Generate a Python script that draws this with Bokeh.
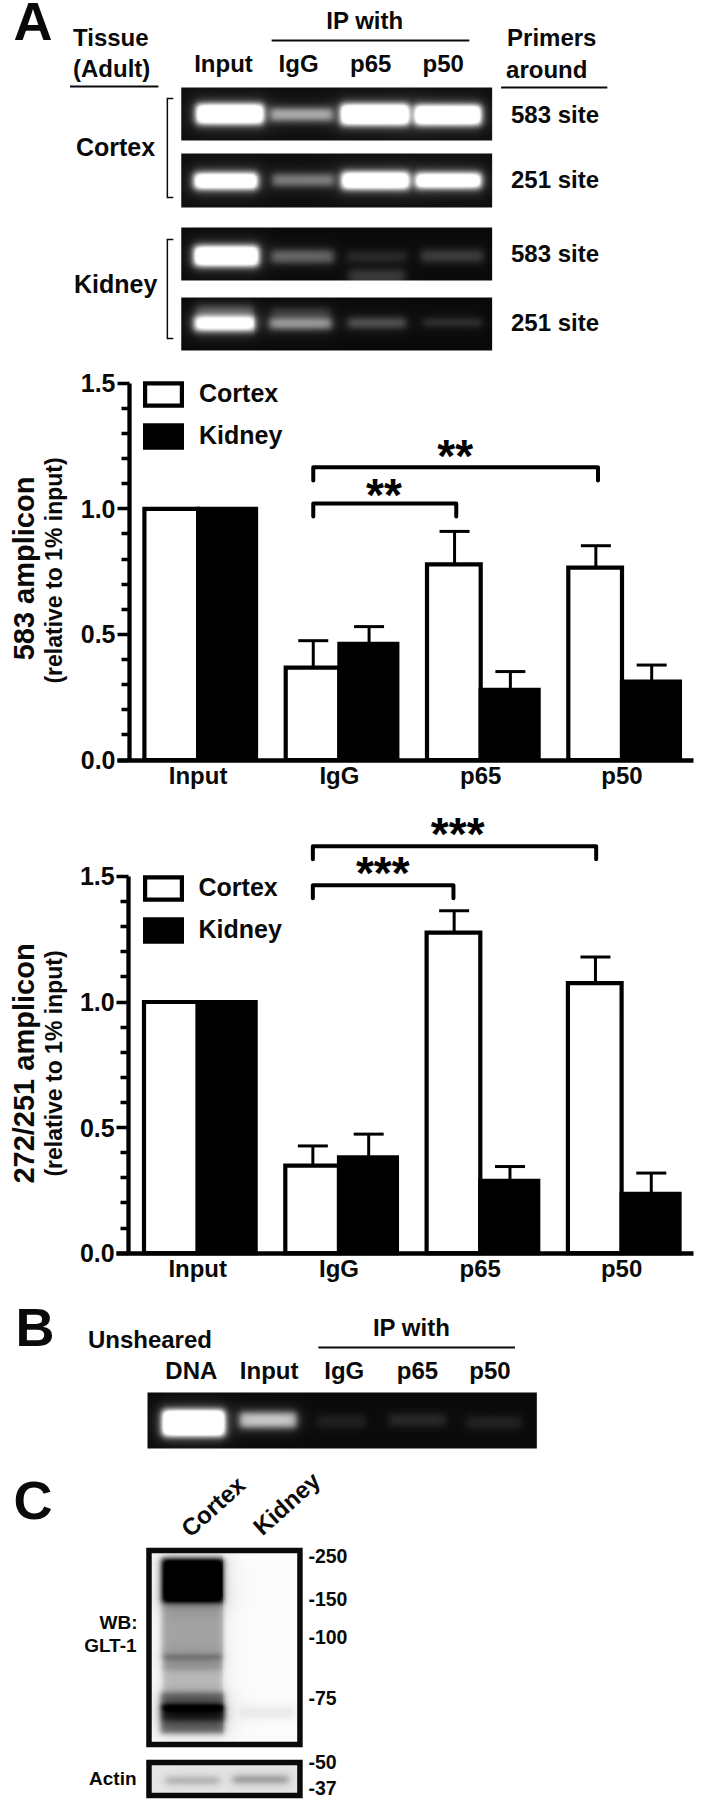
import numpy as np
from bokeh.plotting import figure
from bokeh.layouts import column
from bokeh.embed import file_html
from bokeh.resources import INLINE
from bokeh.core.properties import value
from bokeh.models import (Range1d, LinearAxis, FixedTicker, Whisker, TeeHead, ColumnDataSource,
                          Legend, LegendItem, NumeralTickFormatter)

FONT = "Liberation Sans"
W = 707
XS = 0.9932  # panel x coordinates below were read at this scale
MID = 0.3465  # height of the font box centre above the baseline, in em

groups = ["Input", "IgG", "p65", "p50"]
y_major = [0, 0.5, 1.0, 1.5]
y_minor = [0.1, 0.2, 0.3, 0.4, 0.6, 0.7, 0.8, 0.9, 1.1, 1.2, 1.3, 1.4]

c1_cortex = [1.0, 0.368, 0.779, 0.766]
c1_kidney = [1.0, 0.462, 0.279, 0.312]
c1_cortex_top = [None, 0.475, 0.91, 0.853]
c1_kidney_top = [None, 0.531, 0.352, 0.378]
c2_cortex = [1.0, 0.349, 1.276, 1.075]
c2_kidney = [1.0, 0.382, 0.288, 0.236]
c2_cortex_top = [None, 0.427, 1.363, 1.179]
c2_kidney_top = [None, 0.474, 0.345, 0.319]

# bands: x0, x1, y0, y1, strength
gel_a1 = [(197, 265, 104, 123, 1.4), (272, 334, 108, 120, 0.66), (342, 411, 104, 124, 1.4), (417, 483, 105, 124, 1.4)]
gel_a2 = [(195, 259, 173, 188, 1.4), (274, 335, 174, 185, 0.48), (343, 411, 172, 188, 1.4), (418, 483, 173, 187, 1.4)]
gel_a3 = [(195, 260, 246, 265, 1.4), (273, 335, 250, 262, 0.38), (348, 409, 251, 261, 0.13), (423, 485, 250, 261, 0.22), (350, 407, 270, 282, 0.2)]
gel_a4 = [(195, 256, 316, 330, 1.2), (197, 254, 305, 315, 0.26), (271, 333, 318, 328, 0.62), (273, 331, 308, 316, 0.18),
          (349, 408, 318, 327, 0.32), (425, 484, 319, 325, 0.2)]
gel_b = [(163, 226, 1410, 1435, 1.5), (241, 298, 1412, 1427, 0.75), (318, 368, 1415, 1427, 0.09), (391, 448, 1414, 1425, 0.13), (468, 525, 1416, 1428, 0.1)]
blot_main = [(162, 224, 1558, 1602, 1.1), (162, 224, 1602, 1658, 0.32), (163, 223, 1655, 1670, 0.36), (163, 223, 1670, 1692, 0.22),
             (161, 225, 1692, 1708, 0.55), (161, 226, 1705, 1720, 0.8), (161, 225, 1720, 1733, 0.55), (241, 295, 1706, 1718, 0.06)]
blot_actin = [(166, 219, 1778, 1782, 0.42), (234, 289, 1777, 1781, 0.6)]


def sig(t):
    return 1 / (1 + np.exp(-t))


def render(x0, x1, y0, y1, bands, bg, ink, edge):
    xs = np.arange(x0, x1) + 0.5
    ys = np.arange(y0, y1) + 0.5
    X, Yg = np.meshgrid(xs, ys)
    v = np.zeros_like(X)
    for a, b, c, d, s in bands:
        e = 2.2 * edge
        v += s * sig((X - a) / e) * sig((b - X) / e) * sig((Yg - c) / e) * sig((d - Yg) / e)
        v += 0.10 * s * sig((X - a + 6) / 6) * sig((b + 6 - X) / 6) * sig((Yg - c + 7) / 5) * sig((d + 7 - Yg) / 5)
    v = np.clip(v, 0, 1)
    g = np.clip(bg + (ink - bg) * v, 0, 255).astype(np.uint32)
    img = (255 << 24) | (g << 16) | (g << 8) | g
    return img[::-1, :]


def panel(top, bottom):
    p = figure(width=W, height=bottom - top, output_backend="svg", toolbar_location=None,
               x_axis_type=None, y_axis_type=None,
               x_range=Range1d(0, W / XS), y_range=Range1d(1800 - bottom, 1800 - top),
               min_border=0, outline_line_color=None, background_fill_color="white",
               border_fill_color="white")
    p.xgrid.visible = False
    p.ygrid.visible = False
    return p


def Y(v):
    return 1800 - v


def tx(p, x, y, s, size, align="left", col="#0a0a0a"):
    # y is the baseline
    p.text(x=[x], y=[Y(y - MID * size)], text=[s], text_font=value(FONT), text_font_style="bold",
           text_font_size=f"{size}px", text_align=align, text_baseline="middle", text_color=col)


def tx_rot(p, x, y, s, size, deg):
    p.text(x=[x], y=[Y(y)], text=[s], text_font=value(FONT), text_font_style="bold",
           text_font_size=f"{size}px", text_align="center", text_baseline="middle",
           angle=np.radians(deg), text_color="#0a0a0a")


def line(p, xs, ys, w=2.0):
    p.line(xs, [Y(v) for v in ys], line_color="#0a0a0a", line_width=w, line_join="miter")


def gel(p, x0, x1, y0, y1, bands, bg=14, ink=255, edge=1.0):
    img = render(x0, x1, y0, y1, bands, bg, ink, edge)
    p.image_rgba(image=[img], x=x0, y=Y(y1), dw=x1 - x0, dh=y1 - y0)


# ---------------------- Panel A -----------------------
pa = panel(0, 365)
tx(pa, 13, 39, "A", 54)
tx(pa, 73, 45, "Tissue", 24)
tx(pa, 73, 76, "(Adult)", 24)
line(pa, [70, 159], [86, 86])
tx(pa, 328, 28, "IP with", 24)
line(pa, [273, 472], [40, 40])
for lab, x in zip(["Input", "IgG", "p65", "p50"], [195, 280, 352, 425]):
    tx(pa, x, 71, lab, 24)
tx(pa, 510, 45, "Primers", 24)
tx(pa, 509, 77, "around", 24)
line(pa, [504, 611], [87, 87])
gel(pa, 182, 495, 87, 140, gel_a1)
gel(pa, 182, 495, 153, 207, gel_a2)
gel(pa, 182, 495, 227, 280, gel_a3, bg=10)
gel(pa, 182, 495, 297, 350, gel_a4, bg=10)
line(pa, [174, 168, 168, 174], [98, 98, 197, 197], 1.5)
line(pa, [174, 168, 168, 174], [239, 239, 338, 338], 1.5)
tx(pa, 76, 155, "Cortex", 25)
tx(pa, 74, 292, "Kidney", 25)
for lab, yy in zip(["583 site", "251 site", "583 site", "251 site"], [122, 187, 261, 330]):
    tx(pa, 514, yy, lab, 24)


# ---------------------- Charts -----------------------
def chart(top, bottom, zero_px, base_px, spine_px, cortex, kidney, ctop, ktop, brackets, stars,
          y_lab, x_lab_base, legend_y, legend_x):
    per_unit = 251.2
    per_group = 141.3
    cx = lambda v: (v - base_px) / per_group
    cy = lambda v: (zero_px - v) / per_unit
    p = figure(width=W, height=bottom - top, output_backend="svg", toolbar_location=None,
               x_axis_type=None, y_axis_type=None,
               x_range=Range1d(cx(0), cx(W)), y_range=Range1d(cy(bottom), cy(top)),
               min_border=0, outline_line_color=None, background_fill_color="white",
               border_fill_color="white")
    p.xgrid.visible = False
    p.ygrid.visible = False
    g = np.arange(4)
    r1 = p.vbar(x=g - 0.19, top=cortex, bottom=0, width=0.38, fill_color="white",
                line_color="black", line_width=4.2, line_join="miter")
    r2 = p.vbar(x=g + 0.205, top=kidney, bottom=0, width=0.41, fill_color="black",
                line_color="black", line_width=4.2, line_join="miter")
    for off, vals, tops in ((-0.185, cortex, ctop), (0.21, kidney, ktop)):
        idx = [i for i in range(4) if tops[i] is not None]
        src = ColumnDataSource(dict(x=[g[i] + off for i in idx], lo=[vals[i] for i in idx],
                                    hi=[tops[i] for i in idx]))
        p.add_layout(Whisker(source=src, base="x", lower="lo", upper="hi", dimension="height",
                             line_color="black", line_width=3,
                             upper_head=TeeHead(size=30, line_width=3, line_color="black"),
                             lower_head=None))
    yax = LinearAxis(fixed_location=cx(spine_px), bounds=(0, 1.5),
                     ticker=FixedTicker(ticks=y_major, minor_ticks=y_minor),
                     formatter=NumeralTickFormatter(format="0.0"),
                     axis_line_width=4.3, axis_line_color="black",
                     major_tick_line_width=3.6, major_tick_line_color="black",
                     major_tick_in=0, major_tick_out=12,
                     minor_tick_line_width=3.6, minor_tick_line_color="black",
                     minor_tick_in=0, minor_tick_out=8,
                     major_label_text_font=FONT, major_label_text_font_style="bold",
                     major_label_text_font_size="25px", major_label_text_color="#0a0a0a",
                     major_label_standoff=2)
    p.add_layout(yax, "left")
    xax = LinearAxis(fixed_location=0, bounds=(cx(spine_px - 12), cx(693)),
                     ticker=FixedTicker(ticks=list(range(4))),
                     major_label_overrides={i: s for i, s in enumerate(groups)},
                     axis_line_width=4.3, axis_line_color="black",
                     major_tick_line_color=None, minor_tick_line_color=None,
                     major_tick_in=0, major_tick_out=0,
                     major_label_text_font=FONT, major_label_text_font_style="bold",
                     major_label_text_font_size="24px", major_label_text_color="#0a0a0a",
                     major_label_standoff=x_lab_base)
    p.add_layout(xax, "below")
    for x1, x2, ytop, ydrop in brackets:
        p.line([x1, x1, x2, x2], [ydrop, ytop, ytop, ydrop], line_color="black", line_width=4.0,
               line_join="round", line_cap="round")
    for x, yy, s in stars:
        p.text(x=[x], y=[yy], text=[s], text_font=value(FONT), text_font_style="bold",
               text_font_size="46px", text_align="center", text_baseline="middle", text_color="black")
    for (s, size, px, py) in y_lab:
        # px is the baseline of the rotated text
        p.text(x=[cx(px - MID * size)], y=[cy(py)], text=[s], text_font=value(FONT), text_font_style="bold",
               text_font_size=f"{size}px", text_align="center", text_baseline="middle",
               angle=np.pi / 2, text_color="#0a0a0a")
    leg = Legend(items=[LegendItem(label="Cortex", renderers=[r1]), LegendItem(label="Kidney", renderers=[r2])],
                 location=(legend_x, legend_y), orientation="vertical", glyph_width=46, glyph_height=28,
                 label_standoff=13, spacing=13, margin=0, padding=0, border_line_color=None,
                 background_fill_color=None, background_fill_alpha=0,
                 label_text_font=FONT, label_text_font_style="bold", label_text_font_size="25px",
                 label_text_color="#0a0a0a")
    p.add_layout(leg, "center")
    return p


c1 = chart(365, 800, 759.5, 197.6, 129, c1_cortex, c1_kidney, c1_cortex_top, c1_kidney_top,
           brackets=[(0.815, 2.83, 1.165, 1.113), (0.815, 1.827, 1.021, 0.969)],
           stars=[(1.82, 1.21, "**"), (1.315, 1.056, "**")],
           y_lab=[("583 amplicon", 29, 34, 568), ("(relative to 1% input)", 23, 61, 570)],
           x_lab_base=2, legend_y=350, legend_x=140)
c2 = chart(800, 1290, 1252.7, 197.2, 128.2, c2_cortex, c2_kidney, c2_cortex_top, c2_kidney_top,
           brackets=[(0.815, 2.82, 1.62, 1.568), (0.815, 1.81, 1.465, 1.413)],
           stars=[(1.84, 1.668, "***"), (1.31, 1.513, "***")],
           y_lab=[("272/251 amplicon", 29, 34, 1063), ("(relative to 1% input)", 23, 61, 1063)],
           x_lab_base=2, legend_y=346, legend_x=139.5)

# ---------------------- Panels B and C -----------------------
pb = panel(1290, 1800)
tx(pb, 15, 1345, "B", 54)
tx(pb, 88, 1347, "Unsheared", 24)
tx(pb, 375, 1335, "IP with", 24)
line(pb, [320, 518], [1347, 1347])
for lab, x in zip(["DNA", "Input", "IgG", "p65", "p50"], [166, 241, 326, 399, 472]):
    tx(pb, x, 1378, lab, 24)
gel(pb, 148, 540, 1392, 1448, gel_b, bg=10)

tx(pb, 13, 1518, "C", 54)
tx_rot(pb, 214, 1506, "Cortex", 24, 42)
tx_rot(pb, 288, 1503, "Kidney", 24, 42)

gel(pb, 150, 301, 1550, 1744, blot_main, bg=252, ink=0, edge=0.8)
pb.quad(left=[149.5], right=[301.5], bottom=[Y(1744)], top=[Y(1550)], fill_color=None,
        line_color="#0a0a0a", line_width=5.5, line_join="miter")
gel(pb, 150, 301, 1762, 1795, blot_actin, bg=232, ink=30, edge=1.0)
pb.quad(left=[149.5], right=[301.5], bottom=[Y(1795)], top=[Y(1762)], fill_color=None,
        line_color="#0a0a0a", line_width=5.5, line_join="miter")

for lab, yy in zip(["-250", "-150", "-100", "-75", "-50", "-37"], [1562, 1605, 1643, 1704, 1768, 1794]):
    tx(pb, 310, yy, lab, 19.5)
tx(pb, 138, 1629, "WB:", 19, align="right")
tx(pb, 137, 1652, "GLT-1", 19, align="right")
tx(pb, 137, 1785, "Actin", 19, align="right")

page = column(pa, c1, c2, pb, spacing=0)
open("out.html", "w").write(file_html(page, INLINE))
